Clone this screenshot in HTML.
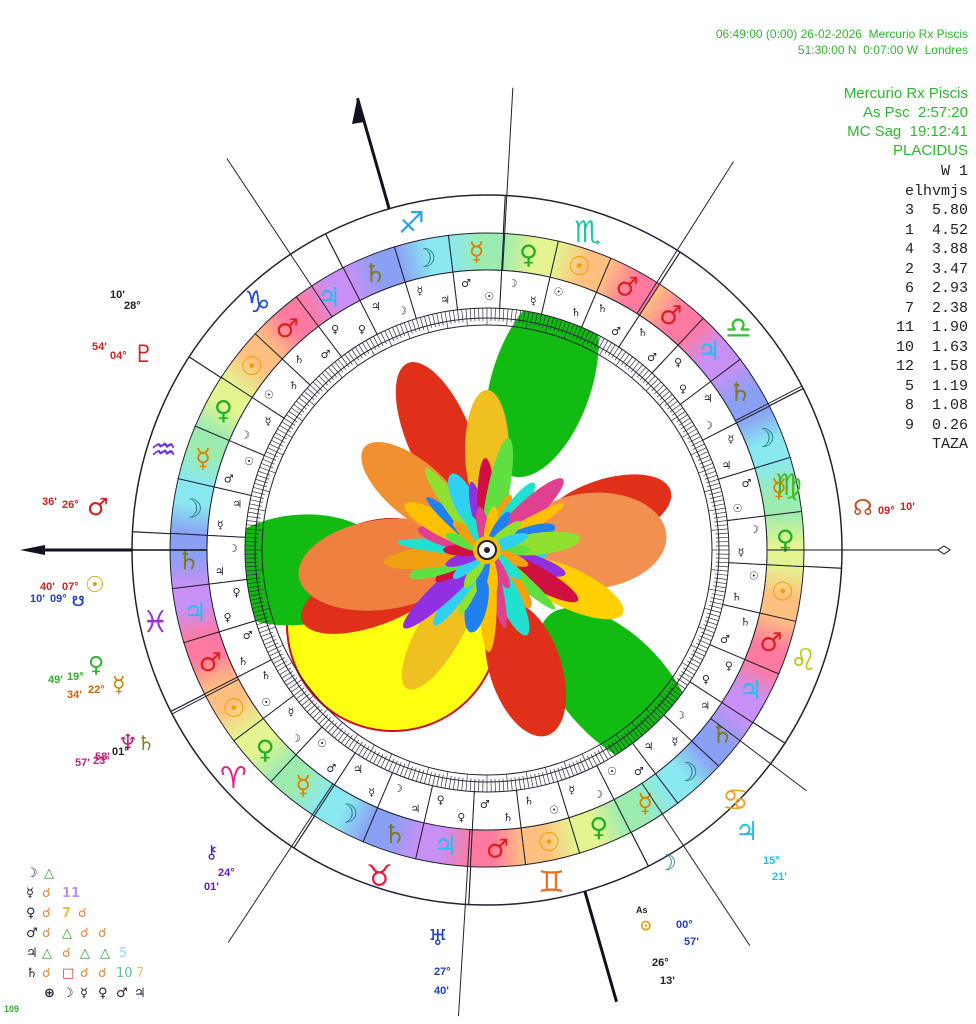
<!DOCTYPE html>
<html><head><meta charset="utf-8"><style>
body{margin:0;background:#fff;width:976px;height:1024px;overflow:hidden;font-family:"Liberation Sans","DejaVu Sans",sans-serif}
svg{position:absolute;left:0;top:0}
.r{position:absolute;right:8px;text-align:right;color:#2db82d;font-size:15px;line-height:19px}
</style></head><body>
<svg id="s" width="976" height="1024" viewBox="0 0 976 1024" xmlns="http://www.w3.org/2000/svg">
<defs id="defs"></defs>
<g id="petals"></g>
<g id="rings"></g>
<g id="outer"></g>
<g font-family="DejaVu Sans,sans-serif" font-weight="bold">
<text x="398" y="233" font-size="30" fill="#2aa7e0">♐</text>
<text x="574" y="242" font-size="30" fill="#19c9a0">♏</text>
<text x="725" y="338" font-size="30" fill="#30c030">♎</text>
<text x="775" y="495" font-size="30" fill="#44bb22">♍</text>
<text x="790" y="670" font-size="30" fill="#aacc00">♌</text>
<text x="722" y="810" font-size="30" fill="#f0a020">♋</text>
<text x="538" y="892" font-size="30" fill="#f07020">♊</text>
<text x="366" y="886" font-size="30" fill="#e02040">♉</text>
<text x="220" y="788" font-size="30" fill="#e0208a">♈</text>
<text x="142" y="632" font-size="30" fill="#9a30d0">♓</text>
<text x="150" y="460" font-size="30" fill="#6a30e0">♒</text>
<text x="244" y="312" font-size="30" fill="#2050d0">♑</text>
</g>
<g font-family="Liberation Sans,sans-serif" font-size="11" font-weight="bold">
<text x="110" y="298" fill="#222">10'</text><text x="124" y="309" fill="#222">28°</text>
<text x="92" y="350" fill="#d02020">54'</text><text x="110" y="359" fill="#d02020">04°</text>
<text x="133" y="362" font-size="24" fill="#d02020" font-family="DejaVu Sans">♇</text>
<text x="42" y="505" fill="#d02020">36'</text><text x="62" y="508" fill="#d02020">26°</text>
<text x="87" y="515" font-size="24" fill="#d02020" font-family="DejaVu Sans">♂</text>
<text x="40" y="590" fill="#d02020">40'</text><text x="62" y="590" fill="#d02020">07°</text>
<text x="85" y="592" font-size="22" fill="#e0a000" font-family="DejaVu Sans">☉</text>
<text x="30" y="602" fill="#2040c0">10'</text><text x="50" y="602" fill="#2040c0">09°</text>
<text x="72" y="606" font-size="14" fill="#2040c0">☋</text>
<text x="48" y="683" fill="#30b030">49'</text><text x="67" y="680" fill="#30b030">19°</text>
<text x="88" y="672" font-size="22" fill="#30b030" font-family="DejaVu Sans">♀</text>
<text x="67" y="698" fill="#d06000">34'</text><text x="88" y="693" fill="#d06000">22°</text>
<text x="112" y="692" font-size="22" fill="#d08000" font-family="DejaVu Sans">☿</text>
<text x="118" y="750" font-size="22" fill="#c02080" font-family="DejaVu Sans">♆</text>
<text x="137" y="750" font-size="20" fill="#808020" font-family="DejaVu Sans">♄</text>
<text x="95" y="760" fill="#c02080">58'</text><text x="112" y="755" fill="#222">01°</text>
<text x="75" y="766" fill="#c02080">57'</text><text x="93" y="764" fill="#c02080">23°</text>
<text x="205" y="858" font-size="18" fill="#6020c0" font-family="DejaVu Sans">⚷</text>
<text x="218" y="876" fill="#6020c0">24°</text><text x="204" y="890" fill="#6020c0">01'</text>
<text x="428" y="945" font-size="22" fill="#2040c0" font-family="DejaVu Sans">♅</text>
<text x="434" y="975" fill="#2040c0">27°</text><text x="434" y="994" fill="#2040c0">40'</text>
<text x="657" y="870" font-size="22" fill="#208080" font-family="DejaVu Sans">☽</text>
<text x="636" y="913" font-size="9" fill="#222">As</text>
<text x="640" y="930" font-size="14" fill="#e0a000">⊙</text>
<text x="676" y="928" fill="#2040c0">00°</text><text x="684" y="945" fill="#2040c0">57'</text>
<text x="652" y="966" fill="#222">26°</text><text x="660" y="984" fill="#222">13'</text>
<text x="735" y="840" font-size="26" fill="#20c0e0" font-family="DejaVu Sans">♃</text>
<text x="763" y="864" fill="#20c0e0">15°</text><text x="772" y="880" fill="#20c0e0">21'</text>
<text x="853" y="515" font-size="22" fill="#c05020" font-family="DejaVu Sans">☊</text>
<text x="878" y="514" fill="#d02020">09°</text><text x="900" y="510" fill="#d02020">10'</text>
<text x="4" y="1012" font-size="9" fill="#30b030">109</text>
</g>
<g font-family="DejaVu Sans,sans-serif" font-size="13" font-weight="bold">
<text x="26" y="877" fill="#223">☽</text><text x="44" y="877" fill="#30a030">△</text>
<text x="26" y="897" fill="#223">☿</text><text x="42" y="897" fill="#f08030">☌</text><text x="62" y="897" fill="#c090f0">11</text>
<text x="26" y="917" fill="#223">♀</text><text x="42" y="917" fill="#f08030">☌</text><text x="62" y="917" fill="#f0c040">7</text><text x="78" y="917" fill="#f08030">☌</text>
<text x="26" y="937" fill="#223">♂</text><text x="42" y="937" fill="#f08030">☌</text><text x="62" y="937" fill="#30a030">△</text><text x="80" y="937" fill="#f08030">☌</text><text x="98" y="937" fill="#f08030">☌</text>
<text x="26" y="957" fill="#223">♃</text><text x="42" y="957" fill="#30a030">△</text><text x="62" y="957" fill="#f08030">☌</text><text x="80" y="957" fill="#30a030">△</text><text x="100" y="957" fill="#30a030">△</text><text x="119" y="957" fill="#80e0f0" font-weight="normal">5</text>
<text x="26" y="977" fill="#223">♄</text><text x="42" y="977" fill="#f08030">☌</text><text x="62" y="977" fill="#e03030">□</text><text x="80" y="977" fill="#f08030">☌</text><text x="98" y="977" fill="#f08030">☌</text><text x="116" y="977" fill="#60c0a0" font-weight="normal">10</text><text x="136" y="977" fill="#f0c060" font-weight="normal">7</text>
<text x="44" y="997" fill="#223">⊕</text><text x="62" y="997" fill="#223">☽</text><text x="80" y="997" fill="#223">☿</text><text x="98" y="997" fill="#223">♀</text><text x="116" y="997" fill="#223">♂</text><text x="134" y="997" fill="#223">♃</text>
</g>
</svg>
<div class="r" style="top:26px;font-size:12px;line-height:16px">06:49:00 (0:00) 26-02-2026 &nbsp;Mercurio Rx Piscis<br>51:30:00 N &nbsp;0:07:00 W &nbsp;Londres</div>
<div class="r" style="top:84px">Mercurio Rx Piscis<br>As Psc &nbsp;2:57:20<br>MC Sag &nbsp;19:12:41<br>PLACIDUS</div>
<div class="r" style="top:162px;color:#222;font-family:'Liberation Mono',monospace;font-size:15px;line-height:19.5px;white-space:pre">W 1
elhvmjs
 3  5.80
 1  4.52
 4  3.88
 2  3.47
 6  2.93
 7  2.38
11  1.90
10  1.63
12  1.58
 5  1.19
 8  1.08
 9  0.26
TAZA</div>
<script>
var NS="http://www.w3.org/2000/svg",CX=487,CY=550;
function el(p,t,a,txt){var e=document.createElementNS(NS,t);for(var k in a)e.setAttribute(k,a[k]);if(txt)e.textContent=txt;document.getElementById(p).appendChild(e);return e;}
function P(r,a){a=a*Math.PI/180;return [CX+r*Math.cos(a),CY+r*Math.sin(a)];}
function seg(r1,r2,a1,a2){var p1=P(r2,a1),p2=P(r2,a2),p3=P(r1,a2),p4=P(r1,a1);return "M"+p1+"A"+r2+","+r2+" 0 0 1 "+p2+"L"+p3+"A"+r1+","+r1+" 0 0 0 "+p4+"Z";}
function pet(d,a,rx,ry,c){var p=P(d,a);el("petals","ellipse",{cx:p[0],cy:p[1],rx:rx,ry:ry,fill:c,transform:"rotate("+a+" "+p[0]+" "+p[1]+")"});}
el("petals","circle",{cx:393,cy:625,r:106,fill:"#ffff10",stroke:"#d01010","stroke-width":2});
pet(178,-72,100,50,"#11bb11");pet(190,174,90,55,"#11bb11");pet(190,47,100,52,"#11bb11");
pet(125,-113,78,32,"#e0301a");pet(125,-18,68,32,"#e0301a");pet(125,72,70,36,"#e0301a");pet(120,159,78,32,"#e0301a");
pet(105,-5,75,48,"#f29050");pet(105,172,85,45,"#f08040");pet(95,-140,65,28,"#f09030");
pet(100,-90,60,22,"#f0c020");pet(95,120,65,22,"#f0c020");pet(90,25,60,20,"#ffd000");
var cols=["#30d0f0","#9030e0","#d01040","#60e040","#f0a010","#20e0d0","#e04090","#ffc000","#2080f0","#90e030"];
for(var i=0;i<30;i++){var a=i*12+5;pet(30+(i%3)*12,a,30+(i%4)*10,7+(i%3)*2,cols[i%cols.length]);}
for(var i=0;i<18;i++){pet(22,i*20,22,6,cols[(i+3)%cols.length]);}
el("petals","circle",{cx:CX,cy:CY,r:14,fill:"#f0c000"});
el("petals","circle",{cx:CX,cy:CY,r:9,fill:"#fff",stroke:"#222","stroke-width":2});
el("petals","circle",{cx:CX,cy:CY,r:3,fill:"#222"});
var R0=355,R1=317,R2=280,R3=242,R4=232;
var order=["♄","♃","♂","☉","♀","☿","☽"],hues={"♄":"#8aa0f4","♃":"#c890f4","♂":"#ff7aa0","☉":"#ffbf80","♀":"#e4f490","☿":"#9cecb0","☽":"#8ae8f0"};
var gc={"♄":"#7a7a20","♃":"#20c0f0","♂":"#e02020","☉":"#f0a000","♀":"#20b020","☿":"#e08000","☽":"#208080"};
for(var k=0;k<36;k++){var ac=-62-10*k,pl=order[(2+k)%7],prev=order[(3+k)%7];
 var g=el("defs","linearGradient",{id:"g"+k,gradientUnits:"userSpaceOnUse",x1:P(R1-18,ac-5)[0],y1:P(R1-18,ac-5)[1],x2:P(R1-18,ac+5)[0],y2:P(R1-18,ac+5)[1]});
 var s1=document.createElementNS(NS,"stop");s1.setAttribute("offset","0");s1.setAttribute("stop-color",hues[prev]);g.appendChild(s1);
 var s2=document.createElementNS(NS,"stop");s2.setAttribute("offset","0.6");s2.setAttribute("stop-color",hues[pl]);g.appendChild(s2);
 el("rings","path",{d:seg(R2,R1,ac-5,ac+5),fill:"url(#g"+k+")",stroke:"#223","stroke-width":1});
 var p=P((R1+R2)/2,ac);el("rings","text",{x:p[0],y:p[1]+9,"font-size":26,"text-anchor":"middle",fill:gc[pl],"font-family":"DejaVu Sans,sans-serif","font-weight":"bold"},pl);
 el("rings","path",{d:seg(R3,R2,ac-5,ac+5),fill:"#fff",stroke:"#223","stroke-width":1});
 var q=P(R2-12,ac-2.5),q2=P(R3+12,ac+2.5);
 el("rings","text",{x:q[0],y:q[1]+4,"font-size":11,"text-anchor":"middle",fill:"#223","font-family":"DejaVu Sans","font-weight":"bold"},order[(k*3)%7]);
 el("rings","text",{x:q2[0],y:q2[1]+4,"font-size":11,"text-anchor":"middle",fill:"#223","font-family":"DejaVu Sans","font-weight":"bold"},order[(k*5+2)%7]);
}
el("rings","circle",{cx:CX,cy:CY,r:R0,fill:"none",stroke:"#223","stroke-width":1.5});
el("rings","circle",{cx:CX,cy:CY,r:R4,fill:"none",stroke:"#223","stroke-width":1});
el("rings","circle",{cx:CX,cy:CY,r:R4-7,fill:"none",stroke:"#223","stroke-width":1});
for(var d=0;d<360;d++){var a=P(R3,d),b=P(d%5==0?R4-7:R4-3,d);el("rings","line",{x1:a[0],y1:a[1],x2:b[0],y2:b[1],stroke:"#334","stroke-width":0.7});}
for(var k=0;k<12;k++){var a=182.95+30*k,p=P(R1,a),q=P(R0,a);el("rings","line",{x1:p[0],y1:p[1],x2:q[0],y2:q[1],stroke:"#223","stroke-width":1.2});}
var cusps=[[-123.6,470],[-86.8,463],[-57.6,460],[-27.5,R0],[37,400],[56.4,475],[93.5,467],[123.4,470],[152.5,R0]];
cusps.forEach(function(c){var p=P(R2,c[0]),q=P(c[1],c[0]);el("outer","line",{x1:p[0],y1:p[1],x2:q[0],y2:q[1],stroke:"#223","stroke-width":1});});
el("outer","line",{x1:30,y1:550,x2:CX-R0,y2:550,stroke:"#112","stroke-width":3});
el("outer","polygon",{points:"20,550 45,545 45,555",fill:"#112"});
el("outer","line",{x1:CX-R0,y1:550,x2:CX-R2,y2:550,stroke:"#112","stroke-width":1.5});
el("outer","line",{x1:CX+R2,y1:550,x2:CX+R0,y2:550,stroke:"#112","stroke-width":1});
el("outer","line",{x1:CX+R0,y1:550,x2:940,y2:550,stroke:"#112","stroke-width":1});
el("outer","polygon",{points:"938,550 944,546 950,550 944,554",fill:"#fff",stroke:"#112"});
var m1=P(R0,-106),m2=P(470,-106);el("outer","line",{x1:m1[0],y1:m1[1],x2:m2[0],y2:m2[1],stroke:"#112","stroke-width":3});
el("outer","polygon",{points:"357,100 352,124 364,122",fill:"#112"});
var i1=P(R0,74),i2=P(470,74);el("outer","line",{x1:i1[0],y1:i1[1],x2:i2[0],y2:i2[1],stroke:"#112","stroke-width":3});
</script>
</body></html>
